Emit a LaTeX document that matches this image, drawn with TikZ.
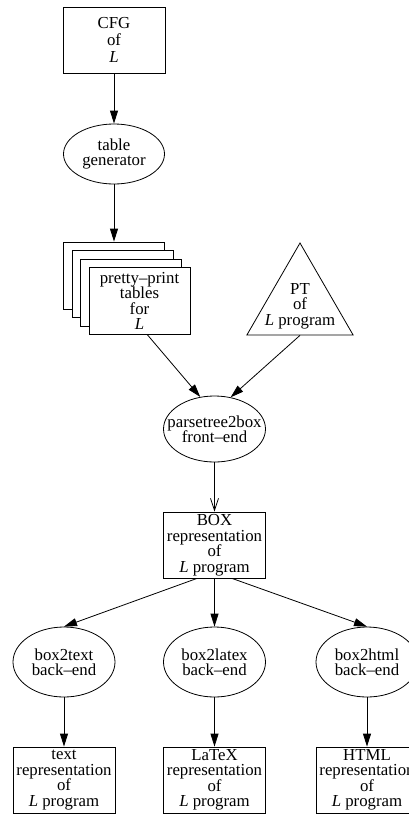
\documentclass[tikz,border=0pt]{standalone}
\usepackage{fontspec}
\setmainfont{Liberation Serif}
\usetikzlibrary{shapes.geometric,arrows.meta}
\begin{document}
\begin{tikzpicture}[x=1pt,y=-1pt,
  every node/.style={font=\fontsize{16.8}{15.5}\selectfont, align=center, inner sep=0pt},
  wide/.style={font=\fontsize{16.8}{17}\selectfont},
  box/.style={draw, rectangle, minimum width=102pt, minimum height=66pt, fill=white},
  oval/.style={draw, ellipse, minimum width=102pt, minimum height=66pt, every label/.style={wide}},
  tri/.style={draw, regular polygon, regular polygon sides=3, minimum size=122.6pt},
  arr/.style={-{Triangle[length=13pt,width=8pt]}},
  openarr/.style={-{Straight Barb[length=12pt,width=8pt]}},
  line width=0.8pt]
\useasboundingbox (0,0) rectangle (409,814);
\clip (0,0) rectangle (409,814);

\node[box, wide] (cfg) at (114,40) {CFG\\of\\\textit{L}};
\node[oval, minimum width=101pt, minimum height=60pt, label={center:{table\\generator}}] (tg) at (114,154) {};

\node[box, minimum width=101pt, minimum height=67pt] (pp4) at (114,275.5) {};
\node[box, minimum width=101pt, minimum height=67pt] (pp3) at (122.5,284) {};
\node[box, minimum width=101pt, minimum height=67pt] (pp2) at (131,292.5) {};
\node[box, minimum width=101pt, minimum height=67pt] (pp) at (139.5,301) {pretty–print\\tables\\for\\\textit{L}};

\node[tri] (pt) at (300,304.3) {};
\node (ptlabel) at (300,306) {PT\\of\\\textit{L} program};

\node[oval, label={center:{parsetree2box\\front–end}}] (p2b) at (214.5,429) {};
\node[box] (boxrep) at (214.5,545) {BOX\\representation\\of\\\textit{L} program};

\node[oval, minimum height=70pt, label={center:{box2text\\back–end}}] (b2t) at (64,662) {};
\node[oval, minimum height=70pt, label={center:{box2latex\\back–end}}] (b2l) at (214.5,662) {};
\node[oval, minimum height=70pt, label={center:{box2html\\back–end}}] (b2h) at (367,662) {};

\node[box] (txt) at (64,780) {text\\representation\\of\\\textit{L} program};
\node[box] (ltx) at (214.5,780) {LaTeX\\representation\\of\\\textit{L} program};
\node[box] (htm) at (367,780) {HTML\\representation\\of\\\textit{L} program};

\draw[arr] (cfg.south) -- (tg.north);
\draw[arr] (tg.south) -- (pp4.north);
\draw[arr] ([xshift=8pt]pp.south) -- (p2b.114);
\draw[arr] (pt.south) -- (p2b.63);
\draw[openarr] (p2b.south) -- (boxrep.north);
\draw[arr] ([xshift=-17.5pt]boxrep.south) -- (b2t.north);
\draw[arr] (boxrep.south) -- (b2l.north);
\draw[arr] ([xshift=17.5pt]boxrep.south) -- (b2h.north);
\draw[arr] (b2t.south) -- (txt.north);
\draw[arr] (b2l.south) -- (ltx.north);
\draw[arr] (b2h.south) -- (htm.north);
\end{tikzpicture}
\end{document}
